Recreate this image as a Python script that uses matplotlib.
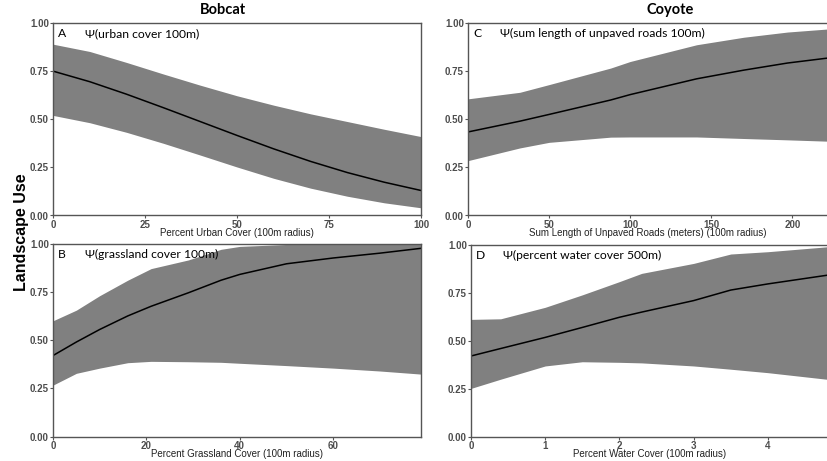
import numpy as np
import matplotlib
matplotlib.use("Agg")
import matplotlib.pyplot as plt

# Panel A - bobcat, urban cover
a_x = [0, 10, 20, 30, 40, 50, 60, 70, 80, 90, 100]
a_mean = [0.75, 0.695, 0.63, 0.56, 0.488, 0.416, 0.346, 0.281, 0.223, 0.173, 0.13]
a_upper = [0.89, 0.852, 0.795, 0.735, 0.677, 0.622, 0.573, 0.528, 0.488, 0.448, 0.41]
a_lower = [0.52, 0.482, 0.432, 0.375, 0.314, 0.252, 0.193, 0.142, 0.10, 0.066, 0.04]

# Panel B - bobcat, grassland cover
b_x = [0, 5, 10, 16, 21, 29, 36, 40, 50, 60, 70, 78.8]
b_mean = [0.42, 0.49, 0.555, 0.625, 0.675, 0.745, 0.81, 0.84, 0.895, 0.925, 0.95, 0.975]
b_upper = [0.60, 0.655, 0.73, 0.81, 0.87, 0.915, 0.97, 0.985, 0.995, 1.0, 1.0, 1.0]
b_lower = [0.267, 0.328, 0.355, 0.383, 0.39, 0.388, 0.385, 0.38, 0.368, 0.355, 0.34, 0.324]

# Panel C - coyote, unpaved roads
c_x = [0, 32, 50, 88, 100, 141, 170, 197, 222]
c_mean = [0.434, 0.49, 0.525, 0.60, 0.628, 0.71, 0.755, 0.792, 0.818]
c_upper = [0.606, 0.64, 0.68, 0.766, 0.80, 0.887, 0.926, 0.953, 0.969]
c_lower = [0.285, 0.351, 0.38, 0.407, 0.408, 0.408, 0.40, 0.393, 0.386]

# Panel D - coyote, water cover
d_x = [0, 0.4, 1, 1.5, 2, 2.3, 3, 3.5, 4, 4.81]
d_mean = [0.421, 0.46, 0.518, 0.57, 0.623, 0.65, 0.71, 0.765, 0.797, 0.843]
d_upper = [0.612, 0.615, 0.675, 0.74, 0.809, 0.852, 0.904, 0.953, 0.965, 0.991]
d_lower = [0.252, 0.30, 0.369, 0.391, 0.388, 0.385, 0.369, 0.352, 0.334, 0.299]

panels = [
    ("A", "\u03a8(urban cover 100m)", "Percent Urban Cover (100m radius)",
     a_x, a_mean, a_upper, a_lower, [0, 25, 50, 75, 100], (0, 100),
     [53/828, 1-215.5/461, (421-53)/828, (215.5-23)/461]),
    ("B", "\u03a8(grassland cover 100m)", "Percent Grassland Cover (100m radius)",
     b_x, b_mean, b_upper, b_lower, [0, 20, 40, 60], (0, 78.8),
     [53/828, 1-436.7/461, (421-53)/828, (436.7-243.5)/461]),
    ("C", "\u03a8(sum length of unpaved roads 100m)", "Sum Length of Unpaved Roads (meters) (100m radius)",
     c_x, c_mean, c_upper, c_lower, [0, 50, 100, 150, 200], (0, 222),
     [468/828, 1-215.5/461, (828-468)/828, (215.5-23)/461]),
    ("D", "\u03a8(percent water cover 500m)", "Percent Water Cover (100m radius)",
     d_x, d_mean, d_upper, d_lower, [0, 1, 2, 3, 4], (0, 4.81),
     [471/828, 1-436.7/461, (828-471)/828, (436.7-245)/461]),
]

fig = plt.figure(figsize=(8.28, 4.61), dpi=100)
tick_col = "#4d4d4d"

for letter, label, xlab, x, m, up, lo, xt, xl, rect in panels:
    ax = fig.add_axes(rect)
    ax.fill_between(x, lo, up, color="#808080", linewidth=0)
    ax.plot(x, m, color="black", lw=1.1)
    ax.set_xlim(*xl)
    ax.set_ylim(0, 1)
    ax.set_xticks(xt)
    ax.set_yticks([0, 0.25, 0.5, 0.75, 1.0])
    ax.set_yticklabels(["0.00", "0.25", "0.50", "0.75", "1.00"])
    for s in ax.spines.values():
        s.set_color("#555555")
        s.set_linewidth(1.0)
    ax.tick_params(length=2.5, width=0.8, color="#555555", pad=0.5,
                   labelsize=7, labelcolor=tick_col)
    for t in ax.get_xticklabels() + ax.get_yticklabels():
        t.set_fontweight("bold")
        t.set_family("Liberation Sans")
    ax.set_xlabel(xlab, fontsize=7, color="#222222", family="Liberation Sans", labelpad=-1)
    ax.annotate(letter, xy=(0, 1), xycoords="axes fraction", xytext=(5, -5),
                textcoords="offset pixels", ha="left", va="top",
                fontsize=8.7, family="Lato")
    ax.annotate(label, xy=(0, 1), xycoords="axes fraction", xytext=(32, -5),
                textcoords="offset pixels", ha="left", va="top",
                fontsize=8.7, family="Lato")

fig.text(223/828, 1-10/461, "Bobcat", ha="center", va="center",
         fontsize=10.5, fontweight="bold", family="Lato")
fig.text(670/828, 1-10/461, "Coyote", ha="center", va="center",
         fontsize=10.5, fontweight="bold", family="Lato")
fig.text(22/828, 1-232/461, "Landscape Use", ha="center", va="center",
         rotation=90, fontsize=11.5, fontweight="bold", family="Liberation Sans")

fig.savefig("out.png", dpi=100)
